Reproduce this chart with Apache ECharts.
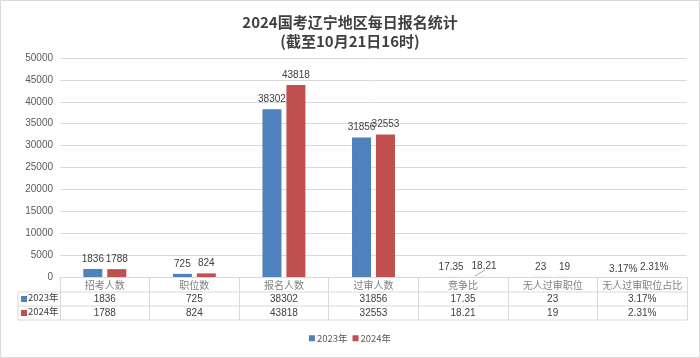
<!DOCTYPE html>
<html><head><meta charset="utf-8">
<script src="https://cdn.jsdelivr.net/npm/echarts@6/dist/echarts.min.js"></script>
<style>html,body{margin:0;padding:0;background:#fff}#c{width:700px;height:358px}</style>
</head><body><div id="c"></div>
<script>
var titleText = '2024国考辽宁地区每日报名统计\n(截至10月21日16时)';
var categories = ['招考人数','职位数','报名人数','过审人数','竞争比','无人过审职位','无人过审职位占比'];
var seriesNames = ['2023年','2024年'];
var values2023 = [1836, 725, 38302, 31856, 17.35, 23, 0.0317];
var values2024 = [1788, 824, 43818, 32553, 18.21, 19, 0.0231];
var yTicks = [0, 5000, 10000, 15000, 20000, 25000, 30000, 35000, 40000, 45000, 50000];
var blue = '#4F81BD', red = '#C0504D';
var FONT = '"Noto Sans CJK SC", "Noto Sans", sans-serif';
var NUMFONT = '"Liberation Sans", "Noto Sans CJK SC", sans-serif';

function fmt(v, i){
  if (i === 6) return (v*100).toFixed(2) + '%';
  return String(v);
}

var chart = echarts.init(document.getElementById('c'));
var GL = 60, GR = 13, GT = 58, GB = 81;
var baseY = 358 - GB;
var gridC = '#d9d9d9';
var option = {
  backgroundColor: '#fff',
  textStyle: {fontFamily: FONT},
  title: {
    text: titleText, left: 'center', top: 8,
    textStyle: {fontSize: 15, fontWeight: 'bold', color: '#404040', lineHeight: 19, fontFamily: FONT}
  },
  legend: {
    bottom: 10, left: 'center', itemWidth: 6, itemHeight: 6, itemGap: 5,
    icon: 'rect',
    textStyle: {fontSize: 9.5, color: '#595959', fontFamily: FONT, padding: [0, 0, 0, -3]},
    data: seriesNames
  },
  grid: {left: GL, right: GR, top: GT, bottom: GB, containLabel: false},
  xAxis: [
    {type: 'category', data: categories, position: 'bottom',
     axisLine: {show: true, lineStyle: {color: gridC}},
     axisTick: {show: true, length: 43, lineStyle: {color: gridC}, alignWithLabel: false},
     axisLabel: {margin: 3, fontSize: 10, color: '#808080', fontFamily: FONT, interval: 0}},
    {type: 'category', data: categories, position: 'bottom', offset: 15,
     axisLine: {show: false}, axisTick: {show: false},
     axisLabel: {margin: 2, fontSize: 10, color: '#404040', fontFamily: NUMFONT, interval: 0,
       formatter: function(v, i){ return fmt(values2023[i], i); }}},
    {type: 'category', data: categories, position: 'bottom', offset: 29,
     axisLine: {show: false}, axisTick: {show: false},
     axisLabel: {margin: 2, fontSize: 10, color: '#404040', fontFamily: NUMFONT, interval: 0,
       formatter: function(v, i){ return fmt(values2024[i], i); }}}
  ],
  yAxis: {
    type: 'value', min: yTicks[0], max: yTicks[yTicks.length-1], interval: yTicks[1]-yTicks[0],
    axisLine: {show: false}, axisTick: {show: false},
    axisLabel: {fontSize: 10, color: '#595959', margin: 7, fontFamily: NUMFONT,
      formatter: function(v){ return String(v); }},
    splitLine: {lineStyle: {color: gridC}}
  },
  series: [
    {name: seriesNames[0], type: 'bar', data: values2023, barWidth: 19, barGap: '26%',
     itemStyle: {color: blue},
     label: {show: true, position: 'top', distance: 5, fontSize: 10, color: '#404040', fontFamily: NUMFONT,
       formatter: function(p){ return fmt(p.value, p.dataIndex); }},
     labelLayout: function(p){ return p.dataIndex === 6 ? {dx: -7, dy: 2} : {}; }},
    {name: seriesNames[1], type: 'bar', data: values2024, barWidth: 19,
     itemStyle: {color: red},
     label: {show: true, position: 'top', distance: 5, fontSize: 10, color: '#404040', fontFamily: NUMFONT,
       formatter: function(p){ return fmt(p.value, p.dataIndex); }},
     labelLayout: function(p){ return p.dataIndex === 4 ? {dx: 9, dy: -1} : {}; }}
  ],
  graphic: [
    {type: 'rect', shape: {x: 0.5, y: 0.5, width: 699, height: 357}, style: {fill: 'none', stroke: '#d9d9d9', lineWidth: 1}, silent: true},
    {type: 'line', shape: {x1: 18, y1: baseY + 15, x2: 700 - GR, y2: baseY + 15}, style: {stroke: gridC, lineWidth: 1}},
    {type: 'line', shape: {x1: 18, y1: baseY + 29, x2: 700 - GR, y2: baseY + 29}, style: {stroke: gridC, lineWidth: 1}},
    {type: 'line', shape: {x1: 18, y1: baseY + 43, x2: 700 - GR, y2: baseY + 43}, style: {stroke: gridC, lineWidth: 1}},
    {type: 'line', shape: {x1: 18, y1: baseY + 15, x2: 18, y2: baseY + 43}, style: {stroke: gridC, lineWidth: 1}},
    {type: 'rect', shape: {x: 21, y: baseY + 19, width: 6, height: 6}, style: {fill: blue}},
    {type: 'rect', shape: {x: 21, y: baseY + 33, width: 6, height: 6}, style: {fill: red}},
    {type: 'text', left: 28, top: baseY + 16, style: {text: seriesNames[0], fill: '#404040', fontSize: 9.5, fontFamily: FONT}},
    {type: 'text', left: 28, top: baseY + 30, style: {text: seriesNames[1], fill: '#404040', fontSize: 9.5, fontFamily: FONT}}
  ]
};
chart.setOption(option);
// small leader line for the moved 竞争比 2024 label
var p = chart.convertToPixel({xAxisIndex: 0, yAxisIndex: 0}, [4, values2024[4]]);
chart.setOption({graphic: option.graphic.concat([
  {type: 'line', shape: {x1: p[0] + 12, y1: p[1] - 1, x2: p[0] + 22, y2: p[1] - 7}, style: {stroke: '#a6a6a6', lineWidth: 1}}
])});
</script></body></html>
